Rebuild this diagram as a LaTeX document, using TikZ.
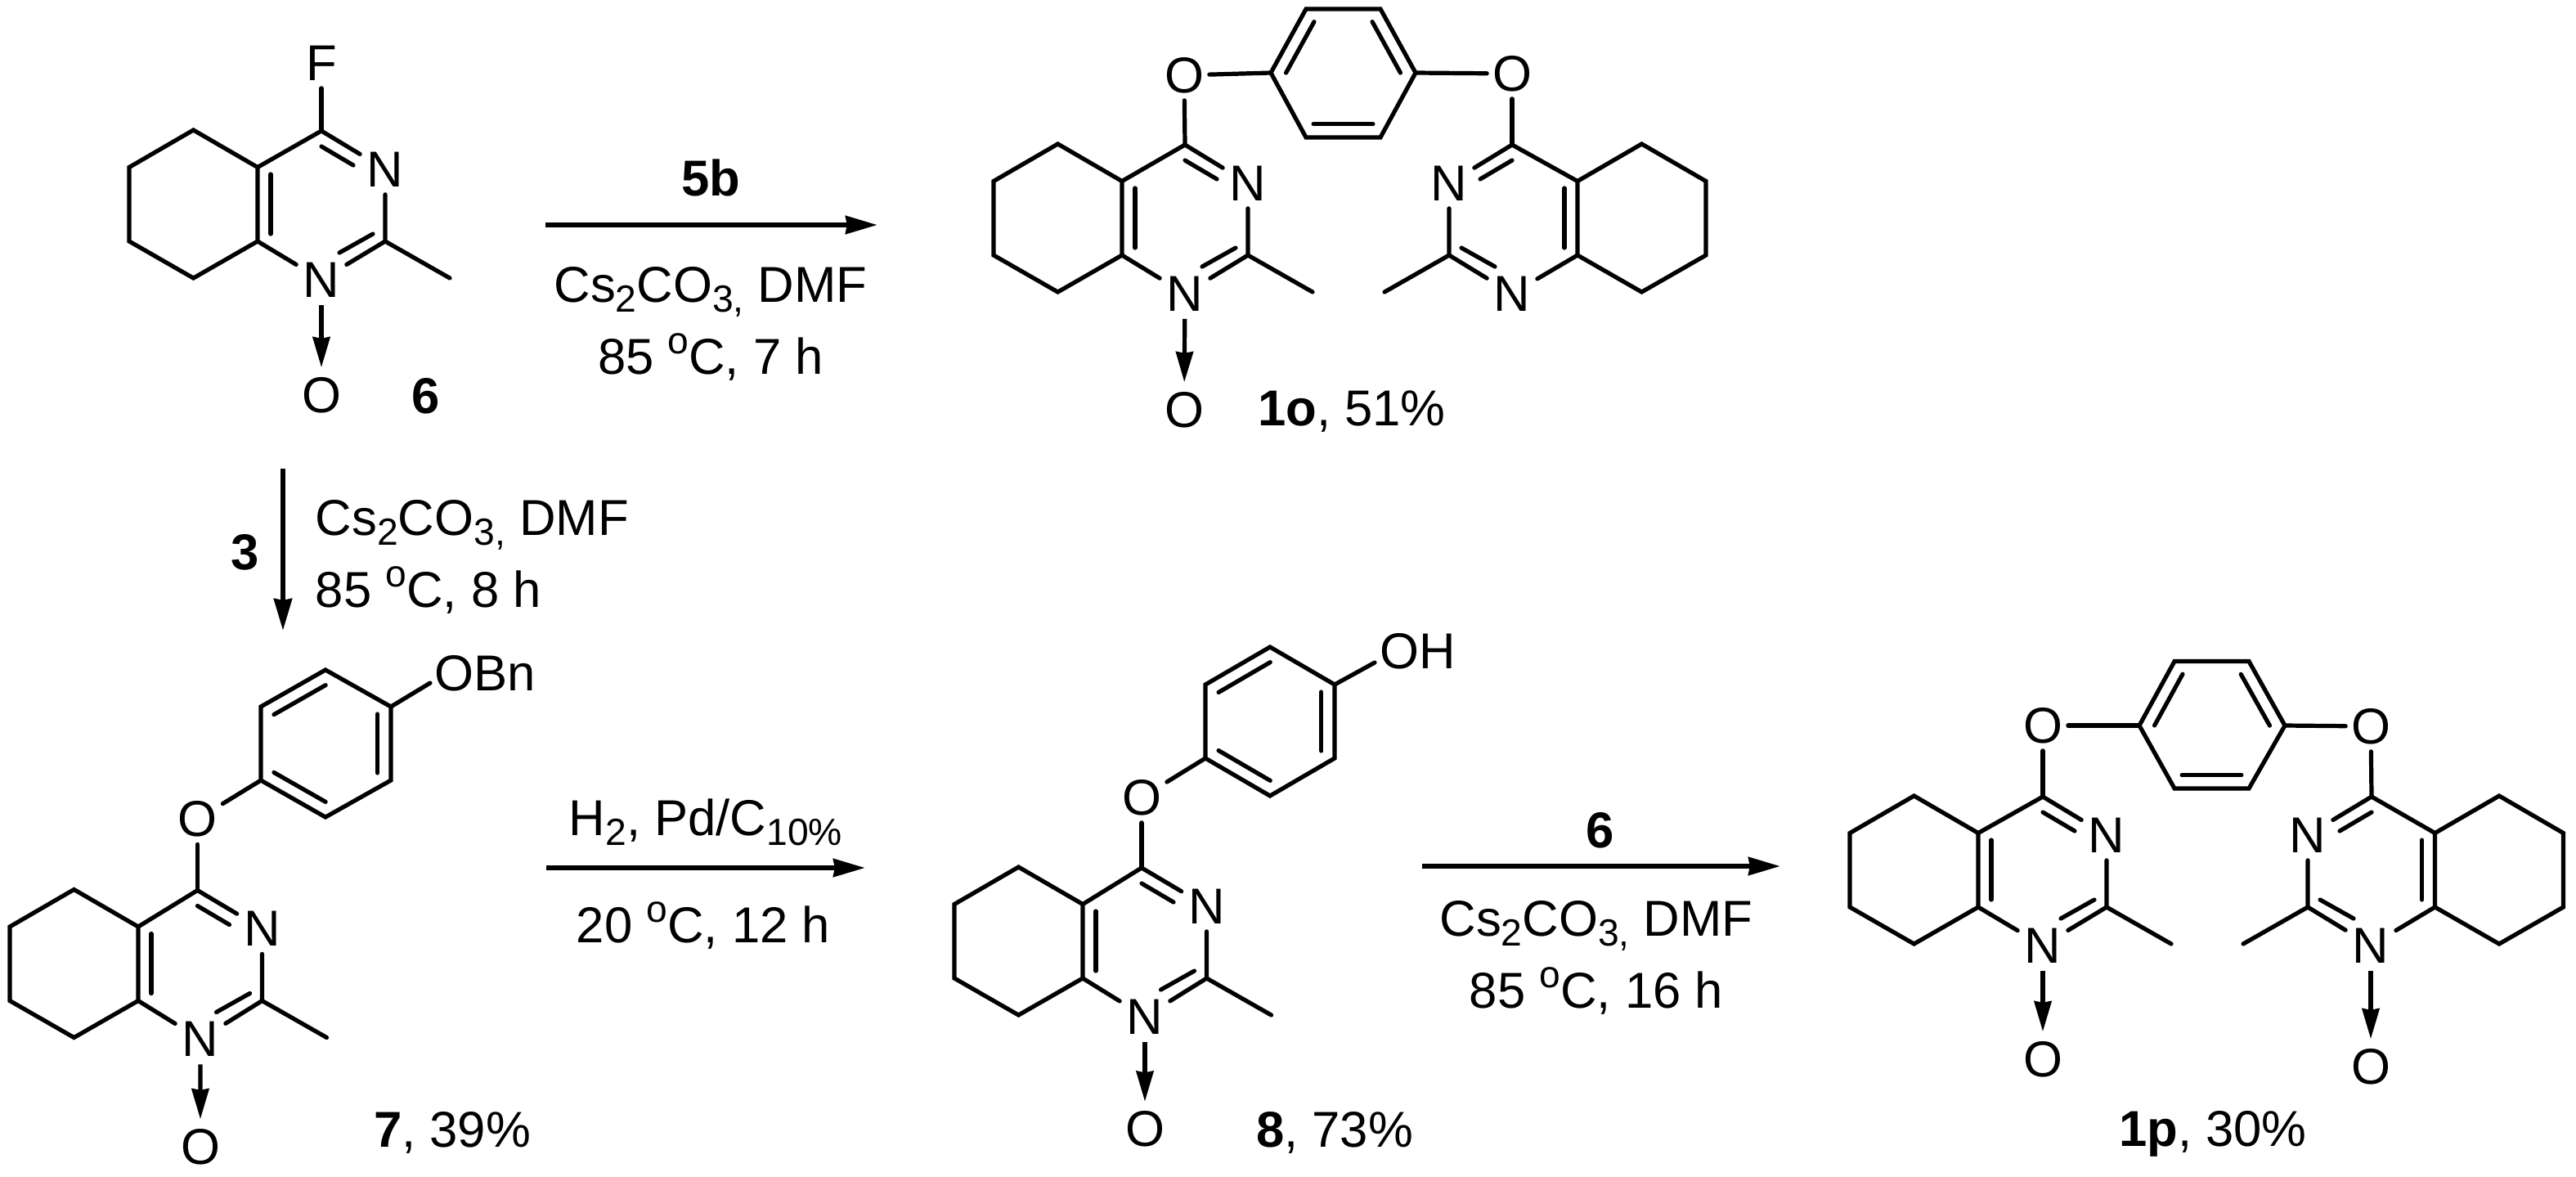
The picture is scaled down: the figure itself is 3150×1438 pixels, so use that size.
\documentclass[tikz,border=0pt]{standalone}
\usepackage{fontspec}
\setmainfont{Liberation Sans}
\usetikzlibrary{calc,arrows.meta}
\newcommand{\chemfont}{\fontsize{14.8}{17}\selectfont}
\newcommand{\subt}[1]{\raisebox{-3pt}{\fontsize{11.1}{12}\selectfont #1}}
\newcommand{\degc}{\raisebox{6pt}{\fontsize{11.1}{12}\selectfont o}C}
\tikzset{
  bond/.style={line width=1.25pt,line cap=round,line join=miter},
  atom/.style={rectangle,inner sep=0pt,minimum width=14.4pt,minimum height=14.4pt,font=\chemfont},
  txt/.style={anchor=base,inner sep=0pt,font=\chemfont},
  txtl/.style={anchor=base west,inner sep=0pt,font=\chemfont},
  rxn/.style={line width=1.5pt,-{Stealth[length=9.3pt,width=5.2pt,inset=0.4pt]}},
  noxide/.style={line width=1.25pt,shorten >=0.7pt,-{Stealth[length=8.9pt,width=5pt,inset=0.4pt]}}
}
% quinazoline skeleton: name, C4 x, C4 y, mirror, dx C4a, dx C2, dx N1
\newcommand{\qz}[7]{%
  \begin{scope}[shift={(#2,#3)},xscale=#4]
    \coordinate (#1-C4) at (0,0);
    \coordinate (#1-C4a) at (-#5,44.5);
    \coordinate (#1-C8a) at (-#5,135);
    \coordinate (#1-C5) at ({-#5-78.5},-1);
    \coordinate (#1-C6) at ({-#5-157},44.5);
    \coordinate (#1-C7) at ({-#5-157},135);
    \coordinate (#1-C8) at ({-#5-78.5},180);
    \coordinate (#1-C2) at (#6,135);
    \coordinate (#1-Me) at ({#6+79},180);
    \node[atom] (#1-N3) at (#6,47) {N};
    \node[atom] (#1-N1) at (#7,182) {N};
    \coordinate (#1-a1) at (0,19);
    \coordinate (#1-a2) at (39,42);
    \coordinate (#1-b1) at ({-#5+16},53);
    \coordinate (#1-b2) at ({-#5+16},126);
    \coordinate (#1-c1) at ({#6-15},126);
    \coordinate (#1-c2) at ({#6-56},149);
  \end{scope}
  \draw[bond] (#1-C4) -- (#1-C4a) -- (#1-C5) -- (#1-C6) -- (#1-C7) -- (#1-C8) -- (#1-C8a) -- (#1-C4a);
  \draw[bond] (#1-C4) -- (#1-N3);
  \draw[bond] (#1-N3) -- (#1-C2) -- (#1-Me);
  \draw[bond] (#1-C8a) -- (#1-N1);
  \draw[bond] (#1-N1) -- (#1-C2);
  \draw[bond] (#1-a1) -- (#1-a2);
  \draw[bond] (#1-b1) -- (#1-b2);
  \draw[bond] (#1-c1) -- (#1-c2);
}
% inner line of a double bond; ring is walked clockwise
\newcommand{\dbl}[2]{\draw[bond] ($(#1)!.1!(#2)!3.9pt!-90:(#2)$) -- ($(#1)!.9!(#2)!3.9pt!-90:(#2)$);}
% benzene ring: name and six vertices, clockwise
\newcommand{\phring}[7]{%
  \coordinate (#1-v1) at #2; \coordinate (#1-v2) at #3; \coordinate (#1-v3) at #4;
  \coordinate (#1-v4) at #5; \coordinate (#1-v5) at #6; \coordinate (#1-v6) at #7;
  \draw[bond] (#1-v1) -- (#1-v2) -- (#1-v3) -- (#1-v4) -- (#1-v5) -- (#1-v6) -- cycle;
  \dbl{#1-v1}{#1-v2}\dbl{#1-v3}{#1-v4}\dbl{#1-v5}{#1-v6}
}
\begin{document}
\begin{tikzpicture}[x=0.24pt,y=-0.24pt]
\useasboundingbox (0,0) rectangle (3150,1438);

% ---- compound 6
\qz{six}{393}{160}{1}{78}{78}{0}
\node[atom] (six-F) at (393,77) {F};
\draw[bond] (six-F) -- (six-C4);
\node[atom] (six-O) at (393,483) {O};
\draw[noxide] (six-N1) -- (six-O);
\node[txt] (six-lab) at (521,505) {\textbf{6}};

% ---- reaction 6 -> 1o
\coordinate (r1a) at (667,275); \coordinate (r1b) at (1073,275);
\draw[rxn] (r1a) -- (r1b);
\node[txt] (r1t) at (869,239) {\textbf{5b}};
\node[txt] (r1m) at (869,369) {Cs\subt{2}CO\subt{3,} DMF};
\node[txt] (r1c) at (869,457) {85 \degc, 7 h};

% ---- compound 1o
\qz{oL}{1449}{177}{1}{77}{77}{0}
\qz{oR}{1849}{177}{-1}{80}{77}{0}
\phring{oP}{(1554,89)}{(1597,11)}{(1688,11)}{(1731,89)}{(1688,168)}{(1597,168)}
\node[atom] (oL-O) at (1448,92) {O};
\node[atom] (oR-O) at (1849,90) {O};
\draw[bond] (oL-O) -- (oL-C4);
\draw[bond] (oR-O) -- (oR-C4);
\draw[bond] (oL-O) -- (oP-v1);
\draw[bond] (oR-O) -- (oP-v4);
\node[atom] (oL-Ox) at (1448,501) {O};
\draw[noxide] (oL-N1) -- (oL-Ox);
\node[txt] (o-lab) at (1653,520) {\textbf{1o}, 51\%};

% ---- reaction 6 -> 7
\coordinate (r2a) at (346,573); \coordinate (r2b) at (346,771);
\draw[rxn] (r2a) -- (r2b);
\node[txt] (r2l) at (300,696) {\textbf{3}};
\node[txtl] (r2m) at (385,654) {Cs\subt{2}CO\subt{3,} DMF};
\node[txtl] (r2c) at (385,742) {85 \degc, 8 h};

% ---- compound 7
\qz{sev}{241.5}{1088.5}{1}{72.5}{79}{3.5}
\phring{sevP}{(319,864)}{(398,819)}{(478,864)}{(478,954)}{(398,999)}{(319,954)}
\node[atom] (sev-O) at (241.5,1001.5) {O};
\draw[bond] (sev-O) -- (sev-C4);
\draw[bond] (sev-O) -- (sevP-v6);
\node[txtl] (sev-OBn) at (531,844) {OBn};
\coordinate (sev-e) at (526,835);
\draw[bond] (sevP-v3) -- (sev-e);
\node[atom] (sev-Ox) at (245,1402) {O};
\draw[noxide] (sev-N1) -- (sev-Ox);
\node[txt] (sev-lab) at (553,1402) {\textbf{7}, 39\%};

% ---- reaction 7 -> 8
\coordinate (r3a) at (668,1061); \coordinate (r3b) at (1058,1061);
\draw[rxn] (r3a) -- (r3b);
\node[txt] (r3t) at (863,1021) {H\subt{2}, Pd/C\subt{10\%}};
\node[txt] (r3c) at (860,1152) {20 \degc, 12 h};

% ---- compound 8
\qz{eig}{1396}{1061}{1}{72}{79.5}{4}
\phring{eigP}{(1474,837)}{(1553,791)}{(1632,837)}{(1632,927)}{(1553,973)}{(1474,927)}
\node[atom] (eig-O) at (1396,975) {O};
\draw[bond] (eig-O) -- (eig-C4);
\draw[bond] (eig-O) -- (eigP-v6);
\node[txtl] (eig-OH) at (1687,817) {OH};
\coordinate (eig-e) at (1681,810);
\draw[bond] (eigP-v3) -- (eig-e);
\node[atom] (eig-Ox) at (1400,1380.5) {O};
\draw[noxide] (eig-N1) -- (eig-Ox);
\node[txt] (eig-lab) at (1632,1402) {\textbf{8}, 73\%};

% ---- reaction 8 -> 1p
\coordinate (r4a) at (1739,1059); \coordinate (r4b) at (2177,1059);
\draw[rxn] (r4a) -- (r4b);
\node[txt] (r4t) at (1957,1036) {\textbf{6}};
\node[txt] (r4m) at (1952,1144) {Cs\subt{2}CO\subt{3,} DMF};
\node[txt] (r4c) at (1952,1232) {85 \degc, 16 h};

% ---- compound 1p
\qz{pL}{2498}{974}{1}{79}{78}{0}
\qz{pR}{2900}{974}{-1}{77.5}{78}{1}
\phring{pP}{(2616,887)}{(2659,808.5)}{(2750,808.5)}{(2794,887)}{(2750,964)}{(2659,964)}
\node[atom] (pL-O) at (2498,887) {O};
\node[atom] (pR-O) at (2899,888) {O};
\draw[bond] (pL-O) -- (pL-C4);
\draw[bond] (pR-O) -- (pR-C4);
\draw[bond] (pL-O) -- (pP-v1);
\draw[bond] (pR-O) -- (pP-v4);
\node[atom] (pL-Ox) at (2498,1295) {O};
\node[atom] (pR-Ox) at (2899,1304) {O};
\draw[noxide] (pL-N1) -- (pL-Ox);
\draw[noxide] (pR-N1) -- (pR-Ox);
\node[txt] (p-lab) at (2706,1401) {\textbf{1p}, 30\%};
\end{tikzpicture}
\end{document}
